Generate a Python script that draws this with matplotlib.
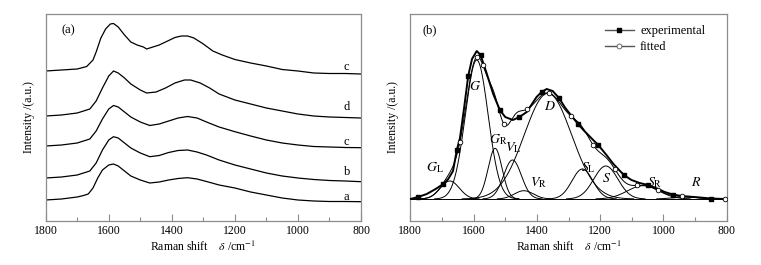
import numpy as np
import matplotlib
matplotlib.use("Agg")
import matplotlib.pyplot as plt
from matplotlib.ticker import MultipleLocator
from matplotlib.lines import Line2D

plt.rcParams['font.family'] = ['Liberation Serif', 'DejaVu Serif']
plt.rcParams['mathtext.fontset'] = 'stix'

# ---------------- Panel (a) data ----------------
a_c_top_x = [1800, 1750, 1700, 1670, 1650, 1640, 1625, 1610, 1595, 1585, 1570, 1550, 1530, 1510, 1490, 1480,
             1460, 1440, 1420, 1390, 1370, 1350, 1330, 1300, 1270, 1240, 1200, 1150, 1100, 1050, 1000, 950, 900, 850, 800]
a_c_top_y = [150, 151, 152, 154.5, 161, 169, 183, 192, 197, 197.5, 194, 186, 179, 176, 174, 172,
             174, 176, 179, 183.5, 185, 185, 183, 177, 170, 166, 161.5, 158, 155, 151.5, 150, 148, 147.5, 147.5, 147]

a_d_x = [1800, 1750, 1700, 1660, 1640, 1620, 1600, 1585, 1570, 1550, 1530, 1500, 1480, 1450, 1420, 1390, 1360,
         1340, 1310, 1280, 1250, 1200, 1150, 1100, 1050, 1000, 950, 900, 850, 800]
a_d_y = [105, 106, 108, 112, 120, 133, 145, 150, 148, 143, 137, 131, 128, 129, 133, 138, 141,
         141, 138, 133, 127, 121, 117, 113, 110, 107, 105, 104, 103.5, 103]

a_c_x = [1800, 1750, 1700, 1660, 1640, 1620, 1600, 1585, 1570, 1550, 1530, 1500, 1470, 1440, 1410, 1380, 1350,
         1320, 1290, 1250, 1200, 1150, 1100, 1050, 1000, 950, 900, 850, 800]
a_c_y = [75, 76, 78, 82, 90, 102, 112, 115.5, 114, 109, 104, 99, 95.5, 97, 100, 103, 104.5,
         103, 99, 94, 89.3, 85, 81, 78, 76, 74.5, 74, 73.5, 73.3]

a_b_x = [1800, 1750, 1700, 1660, 1640, 1620, 1600, 1585, 1570, 1550, 1530, 1500, 1470, 1440, 1410, 1380, 1350,
         1320, 1290, 1250, 1200, 1150, 1100, 1050, 1000, 950, 900, 850, 800]
a_b_y = [43, 44, 46, 50, 58, 71, 81, 84.3, 83, 78, 73, 68, 64.3, 65.5, 68.5, 70.5, 71,
         69, 66, 61, 56, 52, 48, 45, 43, 41.5, 40.5, 40, 39.3]

a_a_x = [1800, 1750, 1700, 1680, 1665, 1650, 1635, 1620, 1600, 1585, 1570, 1550, 1530, 1500, 1470, 1440, 1410,
         1380, 1350, 1320, 1290, 1250, 1200, 1150, 1100, 1050, 1000, 950, 900, 850, 800]
a_a_y = [21, 22, 24, 25.5, 27, 33, 43, 51, 56, 57, 55, 50, 45, 41, 38, 39, 41,
         42.5, 43.3, 42, 39.5, 36, 33, 29, 26, 23, 21, 20, 19.5, 19.5, 19.3]

a_labels = ["c", "d", "c", "b", "a"]
a_label_y = [154, 114, 79, 49, 24]

# ---------------- Panel (b) data ----------------
exp_x = [1800, 1775, 1748, 1720, 1696, 1680, 1665, 1653, 1643, 1630, 1617, 1605, 1590, 1578, 1560, 1538, 1517,
         1500, 1476, 1455, 1432, 1401, 1385, 1369, 1350, 1330, 1310, 1290, 1270, 1250, 1222, 1206, 1180,
         1158, 1125, 1101, 1075, 1049, 1020, 996, 970, 943, 891, 850, 806, 800]
exp_y = [22, 24, 27, 32, 37, 42, 50, 71, 83, 113, 145, 162, 170, 166, 149, 127, 111,
         104, 101, 104, 109, 124, 129, 132, 130, 123, 113, 105, 97, 90, 81, 76, 66,
         57, 46, 41, 38, 36, 32.5, 29, 26.5, 25, 23.7, 22.5, 22, 22]
baseline_b = 22

comp_names = ["G_L", "G", "G_R", "V_L", "V_R", "D", "S_L", "S", "S_R", "R"]
comp_center = [1675, 1590, 1532, 1477, 1441, 1365, 1256, 1182, 1064, 930]
comp_height = [18, 139, 50.7, 39, 8.3, 105.7, 30, 33, 13.3, 2]
comp_sigma = [30, 36, 22, 28, 30, 75, 33, 38, 50, 40]

fit_marker_x = [1643, 1590, 1571, 1504, 1432, 1363, 1293, 1222, 1153, 1085, 1016, 942, 806]

label_text = [r"$G_{\mathrm{L}}$", r"$G$", r"$G_{\mathrm{R}}$", r"$V_{\mathrm{L}}$", r"$V_{\mathrm{R}}$",
              r"$D$", r"$S_{\mathrm{L}}$", r"$S$", r"$S_{\mathrm{R}}$", r"$R$"]
label_x = [1722, 1594, 1522, 1476, 1396, 1359, 1238, 1180, 1026, 898]
label_y = [53, 134, 81, 73, 38, 114, 53, 43, 38, 39]

# ---------------- Figure ----------------
W, H = 761, 265
fig = plt.figure(figsize=(W / 100, H / 100), dpi=100)
ax1 = fig.add_axes([45.7 / W, 1 - 221 / H, (361 - 45.7) / W, (221 - 14) / H])
ax2 = fig.add_axes([410.3 / W, 1 - 221 / H, (726.7 - 410.3) / W, (221 - 14) / H])

frame_col = "#8c8c8c"
for ax in (ax1, ax2):
    ax.set_xlim(1800, 800)
    ax.set_ylim(0, 207)
    ax.xaxis.set_major_locator(MultipleLocator(200))
    ax.xaxis.set_minor_locator(MultipleLocator(100))
    ax.tick_params(axis='x', which='both', direction='in', top=False, colors=frame_col,
                   labelcolor='black', labelsize=8.5, pad=3)
    ax.tick_params(axis='x', which='major', length=5, width=0.8)
    ax.tick_params(axis='x', which='minor', length=3, width=0.8)
    ax.set_yticks([])
    for s in ax.spines.values():
        s.set_color(frame_col)
        s.set_linewidth(0.9)
    ax.set_xlabel(r"Raman shift    $\delta$ /cm$^{-1}$", fontsize=8.5, labelpad=2)
    ax.set_ylabel("Intensity /(a.u.)", fontsize=8.5, labelpad=8)

# Panel (a)
for xs, ys in [(a_c_top_x, a_c_top_y), (a_d_x, a_d_y), (a_c_x, a_c_y), (a_b_x, a_b_y), (a_a_x, a_a_y)]:
    ax1.plot(xs, ys, color='black', lw=0.9)
for t, yy in zip(a_labels, a_label_y):
    ax1.text(845, yy, t, fontsize=9, ha='center', va='center')
ax1.text(0.05, 0.92, "(a)", transform=ax1.transAxes, fontsize=9, ha='left', va='center')

# Panel (b)
xg = np.linspace(1800, 800, 1001)
fit = np.full_like(xg, float(baseline_b))
ax2.axhline(baseline_b, color='black', lw=0.7)
for c, h, s in zip(comp_center, comp_height, comp_sigma):
    g = h * np.exp(-(xg - c) ** 2 / (2 * s ** 2))
    fit += g
    gm = np.where(g > 0.15, baseline_b + g, np.nan)
    ax2.plot(xg, gm, color='black', lw=0.7)

fm = np.array(fit_marker_x, dtype=float)
fit_m = np.full_like(fm, float(baseline_b))
for c, h, s in zip(comp_center, comp_height, comp_sigma):
    fit_m += h * np.exp(-(fm - c) ** 2 / (2 * s ** 2))

ax2.plot(exp_x, exp_y, color='black', lw=1.4, zorder=3)
ax2.plot(exp_x, exp_y, ls='none', marker='s', ms=2.5, color='black', markevery=(1, 3), zorder=3)
ax2.plot(xg, fit, color='black', lw=0.7, zorder=4)
ax2.plot(fm, fit_m, ls='none', marker='o', ms=3.3, mfc='white', mec='black', mew=0.6, zorder=5)

for t, xx, yy in zip(label_text, label_x, label_y):
    ax2.text(xx, yy, t, fontsize=10, ha='center', va='center')
ax2.text(0.04, 0.92, "(b)", transform=ax2.transAxes, fontsize=9, ha='left', va='center')

h1 = Line2D([], [], color='#555555', lw=1.0, marker='s', ms=3, mfc='black', mec='black')
h2 = Line2D([], [], color='#555555', lw=1.0, marker='o', ms=3.5, mfc='white', mec='#555555', mew=0.6)
ax2.legend([h1, h2], ["experimental", "fitted"], loc='upper left', bbox_to_anchor=(0.58, 1.0),
           frameon=False, fontsize=9, handlelength=2.3, handletextpad=0.5, labelspacing=0.3)

fig.savefig("out.png", dpi=100)
